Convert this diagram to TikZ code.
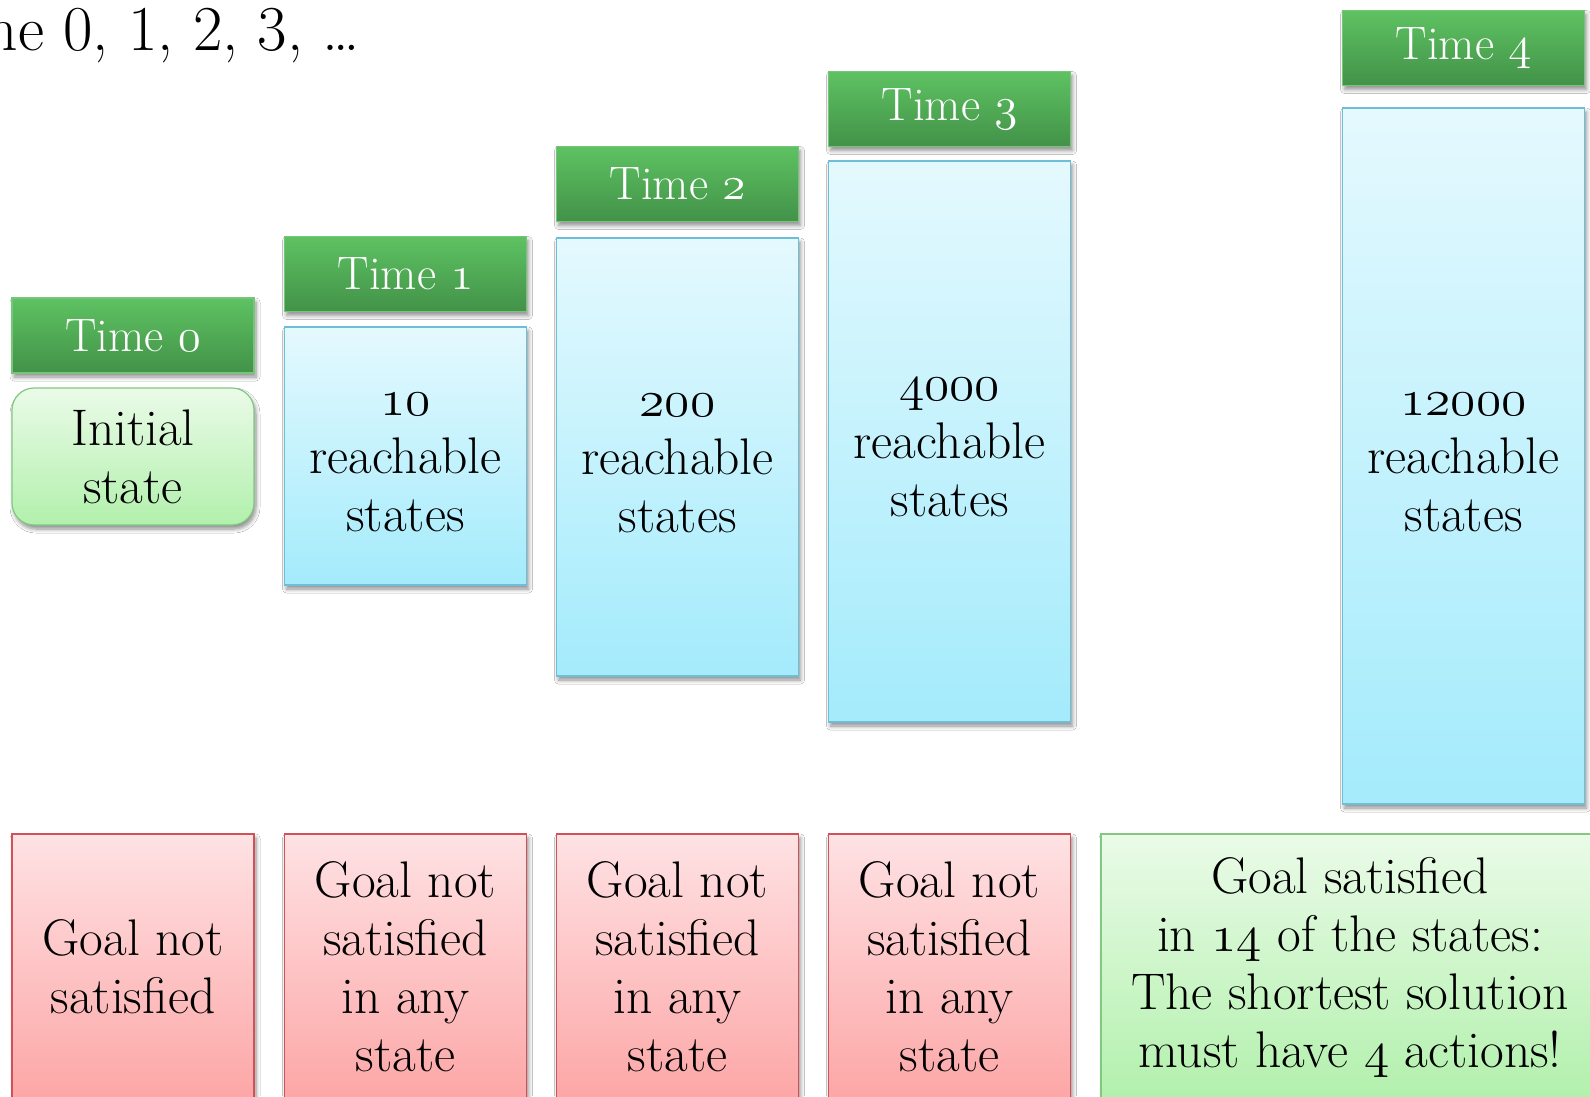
\documentclass[tikz,border=0pt]{standalone}
\usetikzlibrary{shadows.blur}
\definecolor{hdrtop}{RGB}{94,194,98}
\definecolor{hdrbot}{RGB}{66,146,72}
\definecolor{hdrline}{RGB}{120,196,122}
\definecolor{bluetop}{RGB}{228,249,254}
\definecolor{bluebot}{RGB}{164,235,252}
\definecolor{blueline}{RGB}{110,190,216}
\definecolor{redtop}{RGB}{254,226,228}
\definecolor{redbot}{RGB}{253,166,166}
\definecolor{redline}{RGB}{208,82,88}
\definecolor{grntop}{RGB}{234,251,232}
\definecolor{grnbot}{RGB}{178,240,172}
\definecolor{grnline}{RGB}{130,200,130}
% old-style figures: 12pt math italic digits, scaled up to the current size
\makeatletter
\newcommand\osn[1]{\scalebox{\strip@pt\dimexpr\f@size pt/12\relax}{%
  \fontsize{12}{14}\usefont{OML}{cmm}{m}{it}#1}}
\makeatother
% a count line, given full cap height so the block centres like text
\newcommand\countline[1]{\vphantom{T}\osn{#1}}
\tikzset{
  shade box/.style={blur shadow={shadow xshift=2pt, shadow yshift=-4pt,
      shadow blur radius=4pt, shadow blur steps=6, shadow opacity=45}},
  hdr/.style={shade box, draw=hdrline, line width=1.2pt, top color=hdrtop,
      bottom color=hdrbot, minimum width=242pt, minimum height=75pt,
      inner sep=0pt, text=white, font=\fontsize{47}{55}\selectfont},
  body/.style={shade box, line width=1.2pt, minimum width=242pt,
      inner sep=0pt, align=center, text=black,
      font=\fontsize{51.5}{58}\selectfont},
  reach/.style={body, draw=blueline, top color=bluetop, bottom color=bluebot},
  fail/.style={body, draw=redline, top color=redtop, bottom color=redbot,
      minimum height=266pt},
  win/.style={body, draw=grnline, top color=grntop, bottom color=grnbot},
}
\begin{document}
\begin{tikzpicture}[x=1pt,y=-1pt]
  \useasboundingbox (0,0) rectangle (1590,1096);
  \clip (0,0) rectangle (1590,1096);
  \fill[white] (0,0) rectangle (1590,1096);

  % heading line, running off the left edge
  \node[anchor=base east, inner sep=0pt, font=\fontsize{64}{72}\selectfont]
    (title) at (360,50) {Time 0, 1, 2, 3, \ldots};

  % time step headers
  \node[hdr] (h0) at (133,335.5)  {Time \osn{0}};
  \node[hdr] (h1) at (405.5,274)  {Time \osn{1}};
  \node[hdr] (h2) at (677.5,184)  {Time \osn{2}};
  \node[hdr] (h3) at (949.5,109)  {Time \osn{3}};
  \node[hdr] (h4) at (1463.5,48)  {Time \osn{4}};

  % reachable state sets
  \node[win, rounded corners=22pt, minimum height=137pt] (s0) at (133,456.5)
    {Initial\\state};
  \node[reach, minimum height=258pt] (s1) at (405.5,456)
    {\countline{10}\\reachable\\states};
  \node[reach, minimum height=438pt] (s2) at (677.5,457)
    {\countline{200}\\reachable\\states};
  \node[reach, minimum height=561pt] (s3) at (949.5,441.5)
    {\countline{4000}\\reachable\\states};
  \node[reach, minimum height=696pt] (s4) at (1463.5,456)
    {\countline{12000}\\reachable\\states};

  % goal checks
  \node[fail] (g0) at (133,967)   {Goal not\\satisfied};
  \node[fail] (g1) at (405.5,967) {Goal not\\satisfied\\in any\\state};
  \node[fail] (g2) at (677.5,967) {Goal not\\satisfied\\in any\\state};
  \node[fail] (g3) at (949.5,967) {Goal not\\satisfied\\in any\\state};
  \node[win, minimum width=498pt, minimum height=266pt] (g4) at (1350,967)
    {Goal satisfied\\in \osn{14} of the states:\\The shortest solution\\must have \osn{4} actions!};
\end{tikzpicture}
\end{document}
